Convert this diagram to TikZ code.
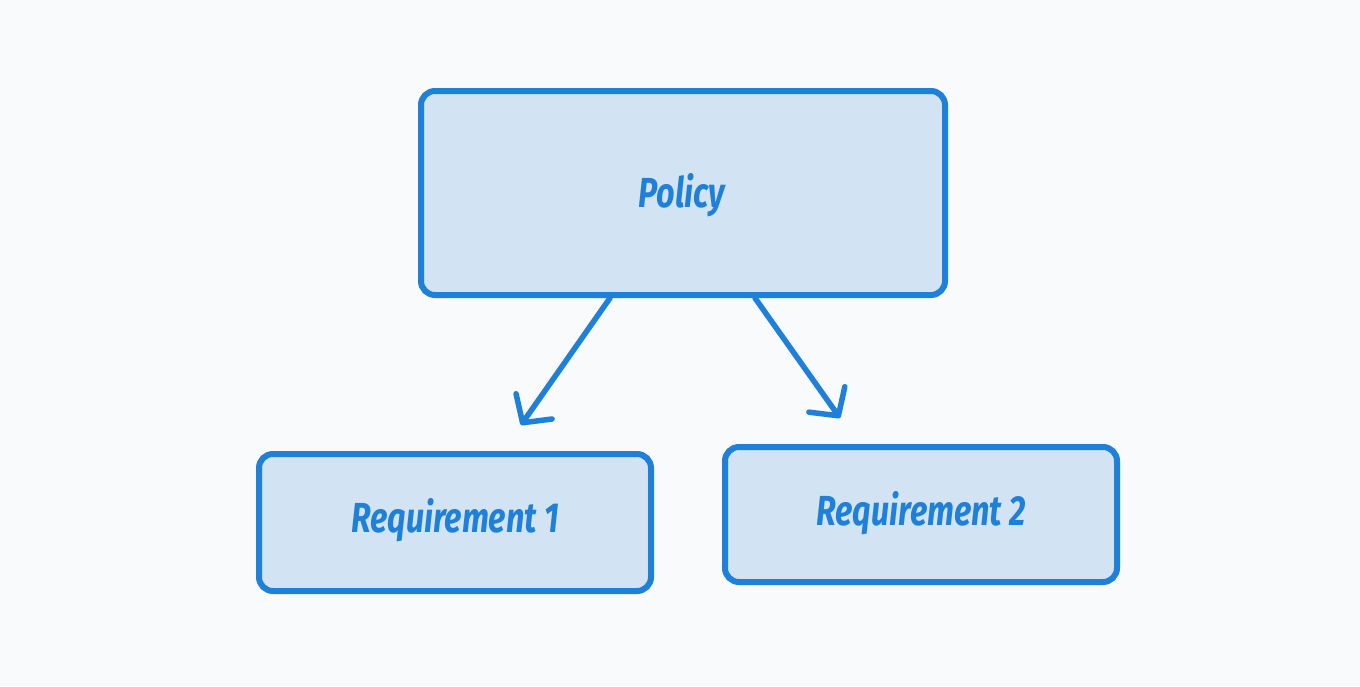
\documentclass[tikz,border=0pt]{standalone}
\usepackage{fontspec}
\setmainfont{Fira Sans}
\usetikzlibrary{arrows.meta}
\definecolor{bg}{HTML}{F8FAFC}
\definecolor{stroke}{HTML}{1E80D8}
\definecolor{boxfill}{HTML}{D2E3F3}
\tikzset{
  box/.style={draw=stroke, fill=boxfill, line width=6pt, rounded corners=14pt, inner sep=0pt},
  lbl/.style={text=stroke, font=\fontsize{42}{46}\selectfont\bfseries\itshape},
  arr/.style={draw=stroke, line width=5.5pt, line cap=round, -{Straight Barb[length=20pt,width=44pt,round]}}
}
\begin{document}
\begin{tikzpicture}[x=1pt,y=-1pt]
\path[fill=bg] (0,0) rectangle (1360,686);
\useasboundingbox (0,0) rectangle (1360,686);
\node[box, minimum width=524pt, minimum height=204pt] (policy) at (683,193) {};
\node[box, minimum width=392pt, minimum height=137pt] (req1) at (455,522.5) {};
\node[box, minimum width=392pt, minimum height=135pt] (req2) at (921,514.5) {};
\node[lbl] (tp) at (682,195) {\scalebox{0.77}[1]{Policy}};
\node[lbl] (t1) at (455,520) {\scalebox{0.77}[1]{Requirement 1}};
\node[lbl] (t2) at (921,513) {\scalebox{0.77}[1]{Requirement 2}};
\coordinate (a1s) at (610,298);
\coordinate (a1e) at (521,425);
\coordinate (a2s) at (755,298);
\coordinate (a2e) at (840,418);
\draw[arr] (a1s) -- (a1e);
\draw[arr] (a2s) -- (a2e);
\end{tikzpicture}
\end{document}
